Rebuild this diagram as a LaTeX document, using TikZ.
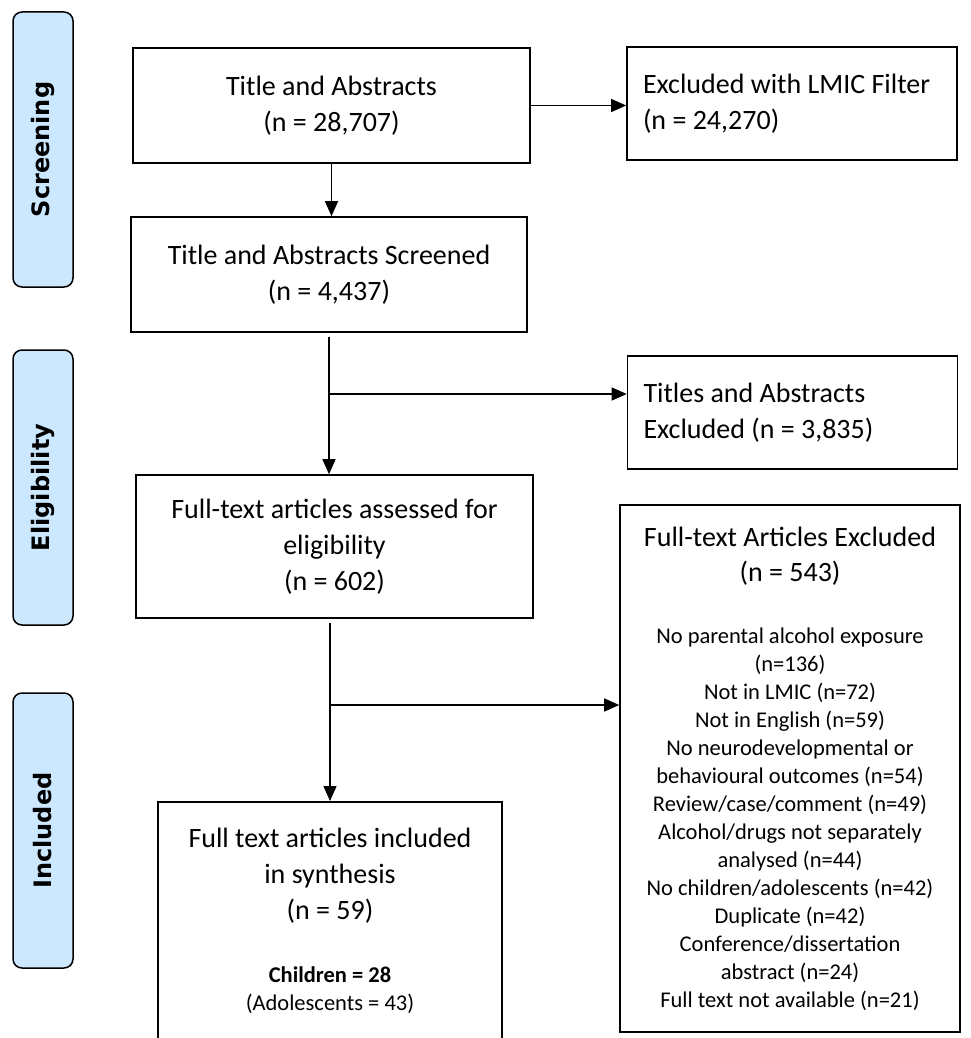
\documentclass[tikz,border=0pt]{standalone}
\usepackage{fontspec}
\setmainfont{Carlito}
\newfontfamily\phasefont{DejaVu Sans}
\usetikzlibrary{arrows.meta,calc,positioning}
\definecolor{phasefill}{RGB}{204,232,255}
\tikzset {
  >={Triangle[length=15pt,width=13pt]},
  every node/.style={font=\fontsize{28}{36}\selectfont},
  flowbox/.style={draw,line width=1.6pt,align=center,inner sep=0pt},
  sidebox/.style={flowbox,align=flush left,text width=298pt,inner xsep=16pt},
  smalltext/.style={font=\fontsize{22.5}{28}\selectfont},
  phasebar/.style={draw,line width=1.5pt,fill=phasefill,rounded corners=9pt,
    rotate=90,minimum width=275pt,minimum height=60pt,
    font=\phasefont\bfseries\fontsize{24}{28}\selectfont},
  flowline/.style={->,line width=1.3pt},
}

\begin{document}
\begin{tikzpicture}[x=1pt,y=-1pt]
  \useasboundingbox (0,0) rectangle (970,1038);
  % phases
  \node[phasebar] (scr) at (43,149.5) {Screening};
  \node[phasebar] (eli) at (43,487.5) {Eligibility};
  \node[phasebar] (inc) at (43,830.5) {Included};
  % main column
  \node[flowbox,minimum width=397pt,minimum height=115pt] (ta) at (331.5,105.5)
    {Title and Abstracts\\(n = 28,707)};
  \node[flowbox,minimum width=396pt,minimum height=115pt] (tas) at (329,274.5)
    {Title and Abstracts Screened\\(n = 4,437)};
  \node[flowbox,minimum width=397pt,minimum height=143pt] (fta) at (334.5,546.5)
    {Full-text articles assessed for\\eligibility\\(n = 602)};
  \node[flowbox,minimum width=344pt,anchor=north,inner ysep=26pt] (incl) at (330,801)
    {Full text articles included\\in synthesis\\(n = 59)\\[27pt]
     {\fontsize{22.5}{28}\selectfont\bfseries Children = 28}\\[-8pt]
     {\fontsize{22.5}{28}\selectfont (Adolescents = 43)}\\[40pt]\mbox{}};
  % exclusions
  \node[sidebox,minimum height=113pt] (lmic) at (792,103.5)
    {Excluded with LMIC Filter\\(n = 24,270)};
  \node[sidebox,minimum height=113pt] (taex) at (792.5,412.5)
    {Titles and Abstracts\\Excluded (n = 3,835)};
  \node[flowbox,smalltext,minimum width=340pt,minimum height=527pt] (ftex) at (790,768.5)
    {{\fontsize{28}{36}\selectfont Full-text Articles Excluded}\\[7pt]
     {\fontsize{28}{36}\selectfont (n = 543)}\\[34pt]
     No parental alcohol exposure\\(n=136)\\Not in LMIC (n=72)\\
     Not in English (n=59)\\No neurodevelopmental or\\
     behavioural outcomes (n=54)\\Review/case/comment (n=49)\\
     Alcohol/drugs not separately\\analysed (n=44)\\
     No children/adolescents (n=42)\\Duplicate (n=42)\\
     Conference/dissertation\\abstract (n=24)\\Full text not available (n=21)};
  % connectors
  \coordinate (br1) at (tas.south |- 0,394);
  \coordinate (br2) at (incl.north |- 0,705);
  \draw[flowline] (ta.east) -- (ta.east -| lmic.west);
  \draw[flowline] (ta.south) -- (ta.south |- tas.north);
  \draw[flowline,shorten <=4pt] (tas.south) -- (tas.south |- fta.north);
  \draw[flowline] (br1) -- (br1 -| taex.west);
  \draw[flowline,shorten <=4pt] (incl.north |- fta.south) -- (incl.north);
  \draw[flowline] (br2) -- (br2 -| ftex.west);
\end{tikzpicture}
\end{document}
